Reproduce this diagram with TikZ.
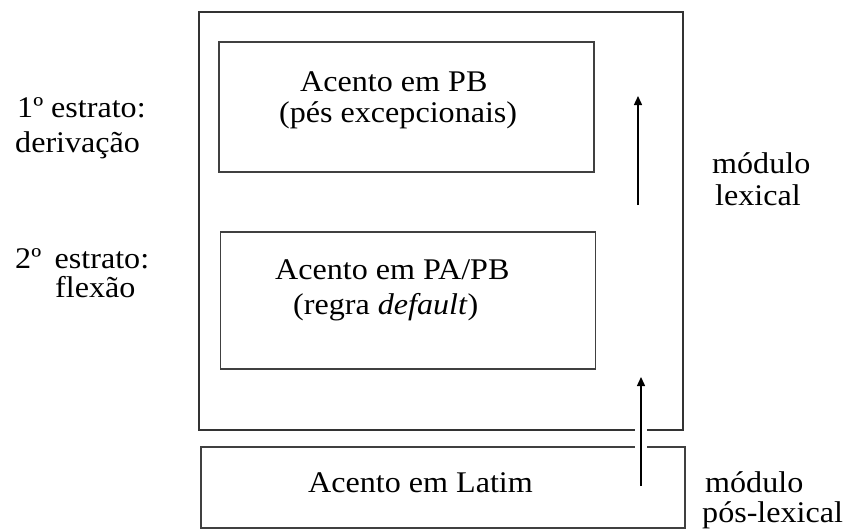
\documentclass[tikz,border=0pt]{standalone}
\usepackage{fontspec}
\setmainfont[FakeStretch=1.07]{Liberation Serif}
\usetikzlibrary{arrows.meta}
\begin{document}
\begin{tikzpicture}[x=1pt,y=-1pt,
  box/.style={draw=black!75, line width=1.6pt, inner sep=0pt},
  outerbox/.style={draw=black!80, line width=1.6pt, inner sep=0pt},
  lbl/.style={anchor=base west, inner sep=0pt, font=\fontsize{30}{36}\selectfont},
  uparrow/.style={draw=black, line width=1.4pt, -{Triangle[length=9pt,width=8pt]}}]
\useasboundingbox (0,0) rectangle (850,530);
% boxes
\node[outerbox, minimum width=484pt, minimum height=418pt] (outer) at (441,221) {};
\node[box, minimum width=375pt, minimum height=130pt] (pb) at (406.5,107) {};
\node[box, minimum width=375pt, minimum height=137pt] (pa) at (408,300.5) {};
\node[box, minimum width=484pt, minimum height=81pt] (lat) at (443,487.5) {};
% texts
\node[lbl] (t1) at (300,91) {Acento em PB};
\node[lbl] (t2) at (279,122) {(pés excepcionais)};
\node[lbl] (t3) at (275,279) {Acento em PA/PB};
\node[lbl] (t4) at (293,314) {(regra \textit{default})};
\node[lbl] (t5) at (308,492) {Acento em Latim};
\node[lbl] (l1) at (17,117) {1º estrato:};
\node[lbl] (l2) at (15,152) {derivação};
\node[lbl] (l3) at (15,268) {2º\hspace{0.45em}estrato:};
\node[lbl] (l4) at (55,297) {flexão};
\node[lbl] (r1) at (712,173) {módulo};
\node[lbl] (r2) at (715,205) {lexical};
\node[lbl] (r3) at (705,492) {módulo};
\node[lbl] (r4) at (702,522) {pós-lexical};
% arrows
\coordinate (a1s) at (638,205);
\coordinate (a1e) at (638,96);
\coordinate (a2s) at (641,486);
\coordinate (a2e) at (641,377);
\draw[uparrow] (a1s) -- (a1e);
\draw[draw=white, line width=12pt] (a2s) -- (a2e);
\draw[uparrow] (a2s) -- (a2e);
\end{tikzpicture}
\end{document}
